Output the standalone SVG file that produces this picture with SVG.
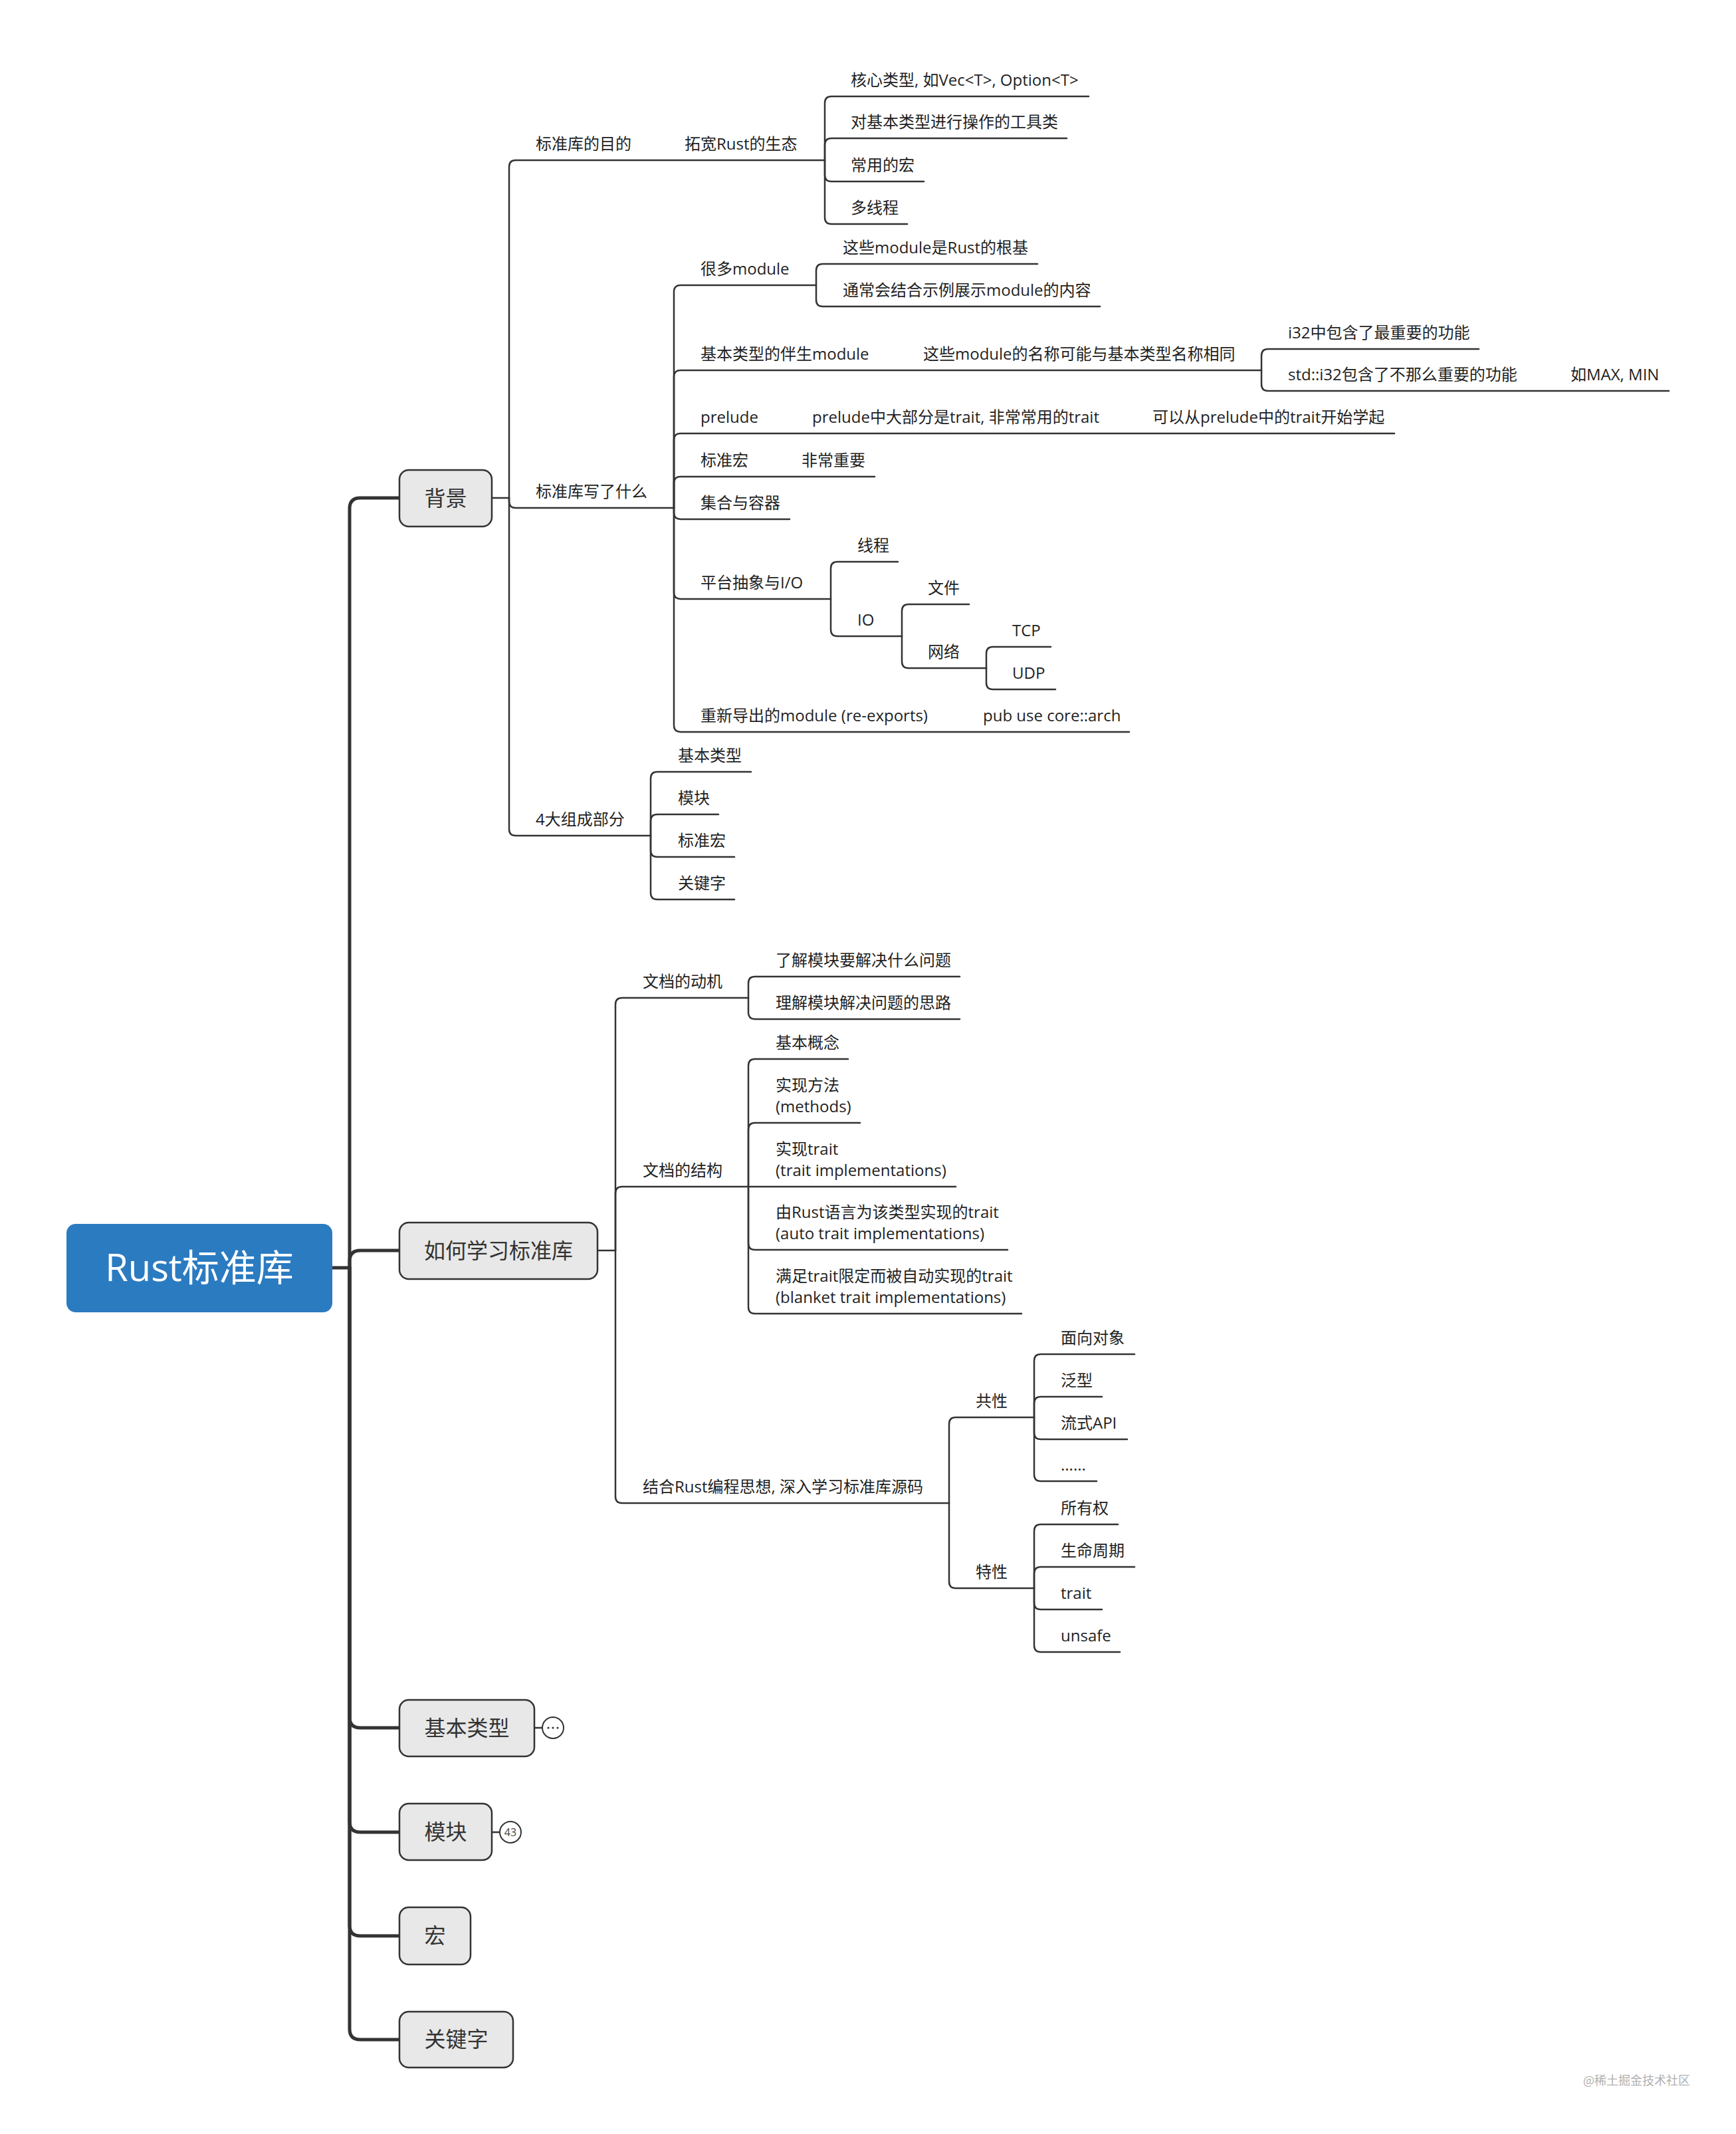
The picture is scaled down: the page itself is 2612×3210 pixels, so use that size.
<svg xmlns="http://www.w3.org/2000/svg" width="2612" height="3210" viewBox="0 0 2612 3210">
<style>
.c{fill:none;stroke:#333;stroke-width:2.5;stroke-linecap:round;stroke-linejoin:round}
.tk{stroke-width:5}
.l{font-family:'Open Sans','Noto Sans CJK SC',sans-serif;font-size:24px;fill:#1f1f1f}
.m{font-family:'Open Sans','Noto Sans CJK SC',sans-serif;font-size:32px;fill:#333;text-anchor:middle}
.box{fill:#e8e8e8;stroke:#333;stroke-width:2.5}
.ind{fill:#fff;stroke:#333;stroke-width:2}
</style>
<rect width="2612" height="3210" fill="#fff"/>
<g id="connectors">
<path class="c tk" d="M500 1907H526"/>
<path class="c tk" d="M526 1907V765Q526 749 542 749H601"/>
<path class="c tk" d="M526 1907V1897Q526 1881 542 1881H601"/>
<path class="c tk" d="M526 1907V2583Q526 2599 542 2599H601"/>
<path class="c tk" d="M526 1907V2740Q526 2756 542 2756H601"/>
<path class="c tk" d="M526 1907V2896Q526 2912 542 2912H601"/>
<path class="c tk" d="M526 1907V3052Q526 3068 542 3068H601"/>
<path class="c" d="M740 749H766"/>
<path class="c" d="M766 749V251Q766 241 776 241H1241"/>
<path class="c" d="M766 749V754Q766 764 776 764H1014"/>
<path class="c" d="M766 749V1247Q766 1257 776 1257H979"/>
<path class="c" d="M1241 241V155Q1241 145 1251 145H1638"/>
<path class="c" d="M1241 241V218Q1241 208 1251 208H1605"/>
<path class="c" d="M1241 241V263Q1241 273 1251 273H1390"/>
<path class="c" d="M1241 241V327Q1241 337 1251 337H1365"/>
<path class="c" d="M1014 764V439Q1014 429 1024 429H1228"/>
<path class="c" d="M1014 764V567Q1014 557 1024 557H1898"/>
<path class="c" d="M1014 764V662Q1014 652 1024 652H2098"/>
<path class="c" d="M1014 764V727Q1014 717 1024 717H1316"/>
<path class="c" d="M1014 764V771Q1014 781 1024 781H1188"/>
<path class="c" d="M1014 764V891Q1014 901 1024 901H1250"/>
<path class="c" d="M1014 764V1091Q1014 1101 1024 1101H1699"/>
<path class="c" d="M1228 429V407Q1228 397 1238 397H1561"/>
<path class="c" d="M1228 429V451Q1228 461 1238 461H1655"/>
<path class="c" d="M1898 557V535Q1898 525 1908 525H2225"/>
<path class="c" d="M1898 557V578Q1898 588 1908 588H2511"/>
<path class="c" d="M1250 901V855Q1250 845 1260 845H1351"/>
<path class="c" d="M1250 901V947Q1250 957 1260 957H1357"/>
<path class="c" d="M1357 957V919Q1357 909 1367 909H1458"/>
<path class="c" d="M1357 957V995Q1357 1005 1367 1005H1484"/>
<path class="c" d="M1484 1005V983Q1484 973 1494 973H1581"/>
<path class="c" d="M1484 1005V1027Q1484 1037 1494 1037H1588"/>
<path class="c" d="M979 1257V1171Q979 1161 989 1161H1130"/>
<path class="c" d="M979 1257V1235Q979 1225 989 1225H1081"/>
<path class="c" d="M979 1257V1279Q979 1289 989 1289H1105"/>
<path class="c" d="M979 1257V1343Q979 1353 989 1353H1105"/>
<path class="c" d="M899 1881H926"/>
<path class="c" d="M926 1881V1511Q926 1501 936 1501H1126"/>
<path class="c" d="M926 1881V1795Q926 1785 936 1785H1126"/>
<path class="c" d="M926 1881V2251Q926 2261 936 2261H1428"/>
<path class="c" d="M1126 1501V1479Q1126 1469 1136 1469H1444"/>
<path class="c" d="M1126 1501V1523Q1126 1533 1136 1533H1444"/>
<path class="c" d="M1126 1785V1603Q1126 1593 1136 1593H1276"/>
<path class="c" d="M1126 1785V1699Q1126 1689 1136 1689H1294"/>
<path class="c" d="M1126 1785H1438"/>
<path class="c" d="M1126 1785V1870Q1126 1880 1136 1880H1516"/>
<path class="c" d="M1126 1785V1966Q1126 1976 1136 1976H1537"/>
<path class="c" d="M1428 2261V2142Q1428 2132 1438 2132H1556"/>
<path class="c" d="M1428 2261V2379Q1428 2389 1438 2389H1556"/>
<path class="c" d="M1556 2132V2047Q1556 2037 1566 2037H1707"/>
<path class="c" d="M1556 2132V2111Q1556 2101 1566 2101H1658"/>
<path class="c" d="M1556 2132V2155Q1556 2165 1566 2165H1696"/>
<path class="c" d="M1556 2132V2218Q1556 2228 1566 2228H1650"/>
<path class="c" d="M1556 2389V2303Q1556 2293 1566 2293H1682"/>
<path class="c" d="M1556 2389V2367Q1556 2357 1566 2357H1707"/>
<path class="c" d="M1556 2389V2411Q1556 2421 1566 2421H1658"/>
<path class="c" d="M1556 2389V2475Q1556 2485 1566 2485H1685"/>
<path class="c" d="M804 2599H816"/>
<path class="c" d="M740 2756H752"/>
</g>
<g id="root">
<rect x="100" y="1841" width="400" height="133" rx="14" fill="#2b7bc1"/>
<text x="300" y="1927" font-family="'Open Sans','Noto Sans CJK SC',sans-serif" font-size="56" fill="#fff" text-anchor="middle">Rust标准库</text>
</g>
<g id="n-beijing"><rect class="box" x="601" y="707" width="139" height="85" rx="14"/><text class="m" x="670.5" y="761">背景</text></g>
<g id="n-howto"><rect class="box" x="601" y="1839" width="298" height="85" rx="14"/><text class="m" x="750" y="1893">如何学习标准库</text></g>
<g id="n-types"><rect class="box" x="601" y="2557" width="203" height="85" rx="14"/><text class="m" x="702.5" y="2611">基本类型</text>
<circle class="ind" cx="832" cy="2599" r="16"/><circle cx="825" cy="2599" r="1.6" fill="#333"/><circle cx="832" cy="2599" r="1.6" fill="#333"/><circle cx="839" cy="2599" r="1.6" fill="#333"/></g>
<g id="n-modules"><rect class="box" x="601" y="2713" width="139" height="85" rx="14"/><text class="m" x="670.5" y="2767">模块</text>
<circle class="ind" cx="768" cy="2756" r="16"/><text x="768" y="2762" font-family="'Open Sans',sans-serif" font-size="16" fill="#444" text-anchor="middle">43</text></g>
<g id="n-macro"><rect class="box" x="601" y="2869" width="107" height="86" rx="14"/><text class="m" x="654.5" y="2923">宏</text></g>
<g id="n-keyword"><rect class="box" x="601" y="3026" width="171" height="84" rx="14"/><text class="m" x="686.5" y="3079">关键字</text></g>
<g id="labels" class="l" transform="translate(0,-2)">
<g id="t1"><text x="806" y="227">标准库的目的</text></g>
<g id="t2"><text x="1030" y="227">拓宽Rust的生态</text></g>
<g id="t3"><text x="1280" y="131">核心类型, 如Vec&lt;T&gt;, Option&lt;T&gt;</text></g>
<g id="t4"><text x="1280" y="194">对基本类型进行操作的工具类</text></g>
<g id="t5"><text x="1280" y="259">常用的宏</text></g>
<g id="t6"><text x="1280" y="323">多线程</text></g>
<g id="t7"><text x="806" y="750">标准库写了什么</text></g>
<g id="t8"><text x="1054" y="415">很多module</text></g>
<g id="t9"><text x="1268" y="383">这些module是Rust的根基</text></g>
<g id="t10"><text x="1268" y="447">通常会结合示例展示module的内容</text></g>
<g id="t11"><text x="1054" y="543">基本类型的伴生module</text></g>
<g id="t12"><text x="1389" y="543">这些module的名称可能与基本类型名称相同</text></g>
<g id="t13"><text x="1938" y="511">i32中包含了最重要的功能</text></g>
<g id="t14"><text x="1938" y="574">std::i32包含了不那么重要的功能</text></g>
<g id="t15"><text x="2363" y="574">如MAX, MIN</text></g>
<g id="t16"><text x="1054" y="638">prelude</text></g>
<g id="t17"><text x="1222" y="638">prelude中大部分是trait, 非常常用的trait</text></g>
<g id="t18"><text x="1734" y="638">可以从prelude中的trait开始学起</text></g>
<g id="t19"><text x="1054" y="703">标准宏</text></g>
<g id="t20"><text x="1206" y="703">非常重要</text></g>
<g id="t21"><text x="1054" y="767">集合与容器</text></g>
<g id="t22"><text x="1054" y="887">平台抽象与I/O</text></g>
<g id="t23"><text x="1290" y="831">线程</text></g>
<g id="t24"><text x="1290" y="943">IO</text></g>
<g id="t25"><text x="1396" y="895">文件</text></g>
<g id="t26"><text x="1396" y="991">网络</text></g>
<g id="t27"><text x="1523" y="959">TCP</text></g>
<g id="t28"><text x="1523" y="1023">UDP</text></g>
<g id="t29"><text x="1054" y="1087">重新导出的module (re-exports)</text></g>
<g id="t30"><text x="1479" y="1087">pub use core::arch</text></g>
<g id="t31"><text x="806" y="1243">4大组成部分</text></g>
<g id="t32"><text x="1020" y="1147">基本类型</text></g>
<g id="t33"><text x="1020" y="1211">模块</text></g>
<g id="t34"><text x="1020" y="1275">标准宏</text></g>
<g id="t35"><text x="1020" y="1339">关键字</text></g>
<g id="t36"><text x="967" y="1487">文档的动机</text></g>
<g id="t37"><text x="1167" y="1455">了解模块要解决什么问题</text></g>
<g id="t38"><text x="1167" y="1519">理解模块解决问题的思路</text></g>
<g id="t39"><text x="967" y="1771">文档的结构</text></g>
<g id="t40"><text x="1167" y="1579">基本概念</text></g>
<g id="t41"><text x="1167" y="1643">实现方法</text><text x="1167" y="1675">(methods)</text></g>
<g id="t42"><text x="1167" y="1739">实现trait</text><text x="1167" y="1771">(trait implementations)</text></g>
<g id="t43"><text x="1167" y="1834">由Rust语言为该类型实现的trait</text><text x="1167" y="1866">(auto trait implementations)</text></g>
<g id="t44"><text x="1167" y="1930">满足trait限定而被自动实现的trait</text><text x="1167" y="1962">(blanket trait implementations)</text></g>
<g id="t45"><text x="967" y="2247">结合Rust编程思想, 深入学习标准库源码</text></g>
<g id="t46"><text x="1468" y="2118">共性</text></g>
<g id="t47"><text x="1596" y="2023">面向对象</text></g>
<g id="t48"><text x="1596" y="2087">泛型</text></g>
<g id="t49"><text x="1596" y="2151">流式API</text></g>
<g id="t50"><text x="1596" y="2214">......</text></g>
<g id="t51"><text x="1468" y="2375">特性</text></g>
<g id="t52"><text x="1596" y="2279">所有权</text></g>
<g id="t53"><text x="1596" y="2343">生命周期</text></g>
<g id="t54"><text x="1596" y="2407">trait</text></g>
<g id="t55"><text x="1596" y="2471">unsafe</text></g>
</g>
<text x="2382" y="3136" font-family="'Noto Sans CJK SC',sans-serif" font-size="18" fill="#b0b0b0">@稀土掘金技术社区</text>
</svg>
